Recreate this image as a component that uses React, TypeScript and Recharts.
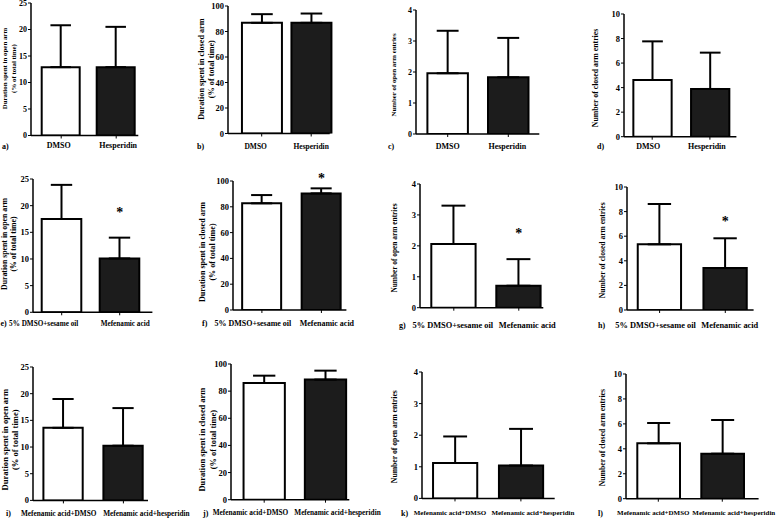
import React from "react";
import { BarChart, Bar, XAxis, YAxis, ErrorBar, Cell, ReferenceDot } from "recharts";

const FONT = '"Liberation Serif", "Times New Roman", Times, serif';

// ---- categories ----
const hespGroups = ["DMSO", "Hesperidin"];
const mefGroups = ["5% DMSO+sesame oil", "Mefenamic acid"];
const comboGroups = ["Mefenamic acid+DMSO", "Mefenamic acid+hesperidin"];

// ---- axis ticks ----
const pctOpenTicks = [0, 5, 10, 15, 20, 25];
const pctClosedTicks = [0, 20, 40, 60, 80, 100];
const openEntryTicks = [0, 1, 2, 3, 4];
const closedEntryTicks = [0, 2, 4, 6, 8, 10];

// ---- axis titles ----
const openTimeLabel = ["Duration spent in open arm", "(% of total time)"];
const closedTimeLabel = ["Duration spent in closed arm", "(% of total time)"];
const openEntryLabel = ["Number of open arm entries"];
const closedEntryLabel = ["Number of closed arm entries"];

// ---- values (mean, upper SD) ----
const aMean = [12.9, 12.9];
const aSd = [7.9, 7.6];
const bMean = [86.8, 86.8];
const bSd = [6.8, 7.3];
const cMean = [1.96, 1.83];
const cSd = [1.37, 1.27];
const dMean = [4.62, 3.89];
const dSd = [3.15, 2.96];
const eMean = [17.5, 10.1];
const eSd = [6.4, 3.9];
const fMean = [82.7, 90.4];
const fSd = [6.4, 3.9];
const gMean = [2.06, 0.71];
const gSd = [1.24, 0.86];
const hMean = [5.34, 3.41];
const hSd = [3.28, 2.42];
const iMean = [13.6, 10.25];
const iSd = [5.4, 7.05];
const jMean = [86.0, 88.5];
const jSd = [5.4, 6.6];
const kMean = [1.12, 1.04];
const kSd = [0.84, 1.16];
const lMean = [4.44, 3.61];
const lSd = [1.63, 2.7];

// significance marks (height of "*")
const eStar = 19.2;
const fStar = 103.9;
const gStar = 2.48;
const hStar = 7.34;

// ---- panel layout ----
const panels = [
  { id: "a", groups: hespGroups, mean: aMean, sd: aSd, ticks: pctOpenTicks, label: openTimeLabel,
    x0: 31, x1: 138.3, yt: 3.2, yb: 135.7, c1: 61.2, c2: 116.2, bw: 38, mr: 45,
    tm: 3.7, cfs: 8, shifts: [-2.5, 2], lfs: 6.9, ldist: 22, ldy: -0.7, tfs: 8 },
  { id: "b", groups: hespGroups, mean: bMean, sd: bSd, ticks: pctClosedTicks, label: closedTimeLabel,
    x0: 228.3, x1: 330, yt: 5.8, yb: 133.3, c1: 262, c2: 311.5, bw: 40, mr: 45,
    tm: 7.5, cfs: 7.5, shifts: [-6, 0], lfs: 8.2, ldist: 21.3, ldy: -0.6, tfs: 8.5 },
  { id: "c", groups: hespGroups, mean: cMean, sd: cSd, ticks: openEntryTicks, label: openEntryLabel,
    x0: 416, x1: 539.3, yt: 10, yb: 134, c1: 447.7, c2: 508.3, bw: 40.5, mr: 40,
    tm: 6.7, cfs: 8, shifts: [0, -1], lfs: 6.9, ldist: 22, ldy: 3, tfs: 8 },
  { id: "d", groups: hespGroups, mean: dMean, sd: dSd, ticks: closedEntryTicks, label: closedEntryLabel,
    x0: 624.3, x1: 736.7, yt: 14, yb: 136.7, c1: 652.5, c2: 710.2, bw: 38.3, mr: 40,
    tm: 4, cfs: 8, shifts: [-4, -3], lfs: 7.8, ldist: 28.3, ldy: 2.6, tfs: 8.5 },
  { id: "e", groups: mefGroups, mean: eMean, sd: eSd, ticks: pctOpenTicks, label: openTimeLabel, star: eStar,
    x0: 33.3, x1: 152.7, yt: 179, yb: 312.3, c1: 62, c2: 120, bw: 39.6, mr: 35,
    tm: 5.2, cfs: 7.2, shifts: [-18, 5.5], lfs: 7.8, ldist: 24.3, ldy: -1.7, tfs: 8.5 },
  { id: "f", groups: mefGroups, mean: fMean, sd: fSd, ticks: pctClosedTicks, label: closedTimeLabel, star: fStar,
    x0: 233.3, x1: 346.7, yt: 181, yb: 310, c1: 262.2, c2: 321.7, bw: 39, mr: 35,
    tm: 7.3, cfs: 8, shifts: [-9, 5.5], lfs: 8.1, ldist: 25.3, ldy: 6.5, tfs: 8.5 },
  { id: "g", groups: mefGroups, mean: gMean, sd: gSd, ticks: openEntryTicks, label: openEntryLabel, star: gStar,
    x0: 420, x1: 543.3, yt: 184, yb: 307.7, c1: 453.8, c2: 518.8, bw: 44.3, mr: 40,
    tm: 11.1, cfs: 8.4, shifts: [-1, 8.5], lfs: 7.4, ldist: 25, ldy: 2.2, tfs: 8.5 },
  { id: "h", groups: mefGroups, mean: hMean, sd: hSd, ticks: closedEntryTicks, label: closedEntryLabel, star: hStar,
    x0: 626.7, x1: 753.3, yt: 186.7, yb: 309.7, c1: 659.3, c2: 725, bw: 43.3, mr: 23,
    tm: 9.1, cfs: 8.4, shifts: [-4, 4.5], lfs: 7.6, ldist: 24.7, ldy: 1.8, tfs: 8.5 },
  { id: "i", groups: comboGroups, mean: iMean, sd: iSd, ticks: pctOpenTicks, label: openTimeLabel,
    x0: 33.3, x1: 148.3, yt: 367.3, yb: 500.7, c1: 63.7, c2: 123.7, bw: 39.3, mr: 50,
    tm: 7, cfs: 7.3, shifts: [-4.7, 23], lfs: 8.6, ldist: 23.3, ldy: 6, tfs: 8.5 },
  { id: "j", groups: comboGroups, mean: jMean, sd: jSd, ticks: pctClosedTicks, label: closedTimeLabel,
    x0: 231, x1: 349.3, yt: 364.3, yb: 500, c1: 264.2, c2: 325.5, bw: 41.3, mr: 35,
    tm: 7.1, cfs: 7.3, shifts: [-13.7, 12], lfs: 8.4, ldist: 23, ldy: 7.8, tfs: 8.5 },
  { id: "k", groups: comboGroups, mean: kMean, sd: kSd, ticks: openEntryTicks, label: openEntryLabel,
    x0: 422.3, x1: 555, yt: 372.3, yb: 498.7, c1: 455.3, c2: 521.2, bw: 44.2, mr: 25,
    tm: 8.4, cfs: 7, shifts: [-5, 12], lfs: 7.7, ldist: 27.3, ldy: 1.5, tfs: 8.5 },
  { id: "l", groups: comboGroups, mean: lMean, sd: lSd, ticks: closedEntryTicks, label: closedEntryLabel,
    x0: 625.7, x1: 758.3, yt: 374.3, yb: 499, c1: 658, c2: 722, bw: 42.7, mr: 18.7,
    tm: 8.1, cfs: 7, shifts: [-5, 11.5], lfs: 7.7, ldist: 23.7, ldy: 1.3, tfs: 8.5 },
];

const letters = [
  { t: "a)", x: 2, y: 146 },
  { t: "b)", x: 197, y: 146.5 },
  { t: "c)", x: 388, y: 146.5 },
  { t: "d)", x: 597, y: 146.5 },
  { t: "e)", x: 0.5, y: 323 },
  { t: "f)", x: 202, y: 323 },
  { t: "g)", x: 399, y: 325 },
  { t: "h)", x: 598, y: 325 },
  { t: "i)", x: 6, y: 513 },
  { t: "j)", x: 203, y: 513 },
  { t: "k)", x: 401, y: 513 },
  { t: "l)", x: 598, y: 513 },
];

const YW = 40;
const TOP = 12;
const XH = 40;

const CatTick = (props: any) => {
  const { x, y, payload, index, fs, shifts } = props;
  const dx = shifts && shifts[index] != null ? shifts[index] : 0;
  return (
    <text x={x + dx} y={y} dy="0.71em" textAnchor="middle" fontSize={fs} fontFamily={FONT}
      fontWeight="bold" fill="#000">
      {payload.value}
    </text>
  );
};

function Panel({ p }: { p: any }) {
  const data = p.groups.map((g: string, i: number) => ({
    group: g,
    mean: p.mean[i],
    err: [0, p.sd[i]],
  }));
  const left = p.x0 - YW;
  const top = p.yt - TOP;
  const width = p.x1 + p.mr - left;
  const plotH = p.yb - p.yt;
  const height = plotH + TOP + XH;
  const band = p.c2 - p.c1;
  const pl = p.c1 - band / 2 - p.x0;
  const pr = p.x1 - p.c2 - band / 2;
  const lx = YW - p.ldist;
  const ly = TOP + plotH / 2 + p.ldy;
  const n = p.label.length;

  const yLabel = () => (
    <g>
      {p.label.map((line: string, i: number) => {
        const off = (i - (n - 1) / 2) * p.lfs * 1.2;
        const x = lx + off;
        return (
          <text key={i} x={x} y={ly} transform={`rotate(-90 ${x} ${ly})`} textAnchor="middle"
            dominantBaseline="central" fontSize={p.lfs} fontFamily={FONT} fontWeight="bold" fill="#000">
            {line}
          </text>
        );
      })}
    </g>
  );

  const starShape = (sp: any) => (
    <text x={sp.cx} y={sp.cy + 14 * 0.48} textAnchor="middle" fontSize={14} fontFamily={FONT}
      fontWeight="bold" fill="#000" stroke="none">
      *
    </text>
  );

  return (
    <div style={{ position: "absolute", left, top }}>
      <BarChart width={width} height={height} data={data}
        margin={{ top: TOP, right: p.mr, bottom: 0, left: 0 }}>
        <XAxis dataKey="group" height={XH} padding={{ left: pl, right: pr }} interval={0}
          tickSize={3} tickMargin={p.tm}
          axisLine={{ stroke: "#000", strokeWidth: 1.5 }}
          tickLine={{ stroke: "#000", strokeWidth: 1 }}
          tick={<CatTick fs={p.cfs} shifts={p.shifts} />} />
        <YAxis width={YW} type="number" domain={[p.ticks[0], p.ticks[p.ticks.length - 1]]}
          ticks={p.ticks} allowDataOverflow interval={0} tickSize={3} tickMargin={1}
          axisLine={{ stroke: "#000", strokeWidth: 1.5 }}
          tickLine={{ stroke: "#000", strokeWidth: 1 }}
          tick={{ fontSize: p.tfs, fontFamily: FONT, fontWeight: "bold", fill: "#000" }}
          label={yLabel} />
        <Bar dataKey="mean" barSize={p.bw} stroke="#000" strokeWidth={2} isAnimationActive={false}>
          {data.map((_: any, i: number) => (
            <Cell key={i} fill={i === 0 ? "#ffffff" : "#1c1c1c"} />
          ))}
          <ErrorBar dataKey="err" width={p.bw * 0.27} stroke="#000" strokeWidth={2}
            direction="y" isAnimationActive={false} />
        </Bar>
        {p.star != null && (
          <ReferenceDot x={p.groups[1]} y={p.star} r={0} ifOverflow="visible" shape={starShape} />
        )}
      </BarChart>
    </div>
  );
}

export default function App() {
  return (
    <div style={{ position: "absolute", left: 0, top: 0, width: 777, height: 520, background: "#fff", overflow: "hidden" }}>
      <svg width={777} height={520} style={{ position: "absolute", left: 0, top: 0 }}>
        {letters.map((l) => (
          <text key={l.t} x={l.x} y={l.y} dominantBaseline="central" fontSize={8} fontFamily={FONT}
            fontWeight="bold" fill="#000">
            {l.t}
          </text>
        ))}
      </svg>
      {panels.map((p) => (
        <Panel key={p.id} p={p} />
      ))}
    </div>
  );
}
